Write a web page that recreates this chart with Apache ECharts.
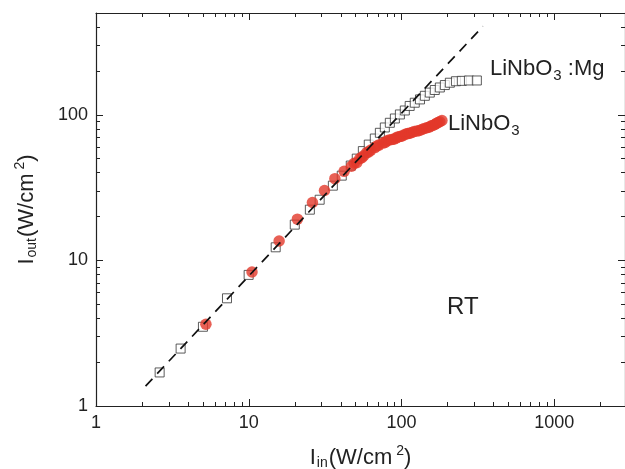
<!DOCTYPE html>
<html>
<head>
<meta charset="utf-8">
<title>Iout vs Iin</title>
<script src="https://cdn.jsdelivr.net/npm/echarts@6/dist/echarts.min.js"></script>
<style>
    html, body { margin: 0; padding: 0; background: #fff; }
    #chart { width: 625px; height: 469px; }
</style>
</head>
<body>
<div id="chart"></div>
<script>

// Data: [Iin, Iout] in W/cm2
var mgData = [
    [2.61, 1.70], [3.58, 2.48], [5.01, 3.50], [7.20, 5.49], [9.98, 7.95],
    [15.0, 12.3], [20.0, 17.6], [25.1, 22.3], [29.1, 26.1], [35.5, 32.6],
    [40.6, 38.2], [46.5, 44.8], [50.9, 50.0], [55.8, 56.3], [61.0, 62.4],
    [66.8, 68.7], [72.1, 75.2], [77.7, 81.8], [83.8, 88.1], [90.4, 94.3],
    [97.5, 100.5], [105, 107], [113, 115], [122, 121], [132, 127.5],
    [142, 135], [153, 142], [165, 148], [178, 154], [192, 160],
    [207, 166], [227, 170], [248, 171], [276, 172], [311, 172]
];

var undopedData = [
    [5.24, 3.64], [10.5, 8.33], [15.8, 13.6], [20.8, 19.2], [26.1, 25.0],
    [31.3, 30.2], [36.6, 36.4], [42.1, 40.9], [47.0, 44.3], [49.0, 46.5],
    [50.9, 46.9], [53.3, 50.0], [55.0, 50.8], [56.6, 52.4], [59.2, 55.0],
    [61.0, 55.5], [62.9, 57.2], [66.8, 59.5], [69.0, 61.0], [71.0, 61.9],
    [75.4, 63.9], [78.0, 64.5], [80.1, 66.0], [83.0, 67.2], [86.4, 67.6],
    [89.0, 67.9], [91.8, 69.2], [94.5, 70.5], [97.5, 70.9], [100, 71.2],
    [103.5, 72.6], [107, 73.8], [110, 74.3], [113, 74.6], [116.8, 75.5],
    [121, 76.8], [126, 77.3], [131, 78.0], [135.8, 79.2], [141, 80.6],
    [146.5, 81.4], [151, 82.2], [155.6, 83.7], [160, 84.5], [165.3, 85.8],
    [169, 87.2], [173, 88.5], [178, 89.6], [183.7, 91.3]
];

// Guide line (dashed)
var guideLine = [[2.11, 1.37], [341, 405]];

// Tick values
var xMajor = [1, 10, 100, 1000];
var xMinor = [2, 3, 4, 5, 6, 7, 8, 9, 20, 30, 40, 50, 60, 70, 80, 90,
    200, 300, 400, 500, 600, 700, 800, 900, 2000];
var yMajor = [1, 10, 100];
var yMinor = [2, 3, 4, 5, 6, 7, 8, 9, 20, 30, 40, 50, 60, 70, 80, 90, 200, 300, 400];

var xRange = [1, 2900];
var yRange = [1, 500];

var FONT = '"Liberation Sans", Arial, Helvetica, sans-serif';
var INK = '#222';

// One log axis; ticks only, or with line and labels
function logAxis(range, position, ticks, len, withLabels) {
    return {
        type: 'log',
        logBase: 10,
        position: position,
        min: range[0],
        max: range[1],
        axisLine: {
            show: withLabels !== undefined,
            onZero: false,
            lineStyle: { color: INK, width: 1.2 }
        },
        axisTick: {
            show: true,
            inside: true,
            length: len,
            customValues: ticks,
            lineStyle: { color: INK, width: 1 }
        },
        axisLabel: withLabels ? {
            show: true,
            customValues: ticks,
            formatter: function (v) { return String(Math.round(v)); },
            color: INK,
            fontSize: 18,
            fontFamily: FONT,
            margin: 8
        } : { show: false },
        splitLine: { show: false },
        minorTick: { show: false }
    };
}

var titleRich = {
    t: { fontSize: 22, fontFamily: FONT, color: INK },
    sub: { fontSize: 14, fontFamily: FONT, color: INK, padding: [12, 1, 0, 1] },
    sup: { fontSize: 14, fontFamily: FONT, color: INK, padding: [0, 0, 13, 4] }
};

var xAxes = [
    logAxis(xRange, 'bottom', xMajor, 7, true),
    logAxis(xRange, 'bottom', xMinor, 4),
    logAxis(xRange, 'top', xMajor, 7, false),
    logAxis(xRange, 'top', xMinor, 4)
];
xAxes[0].name = '{t|I}{sub|in}{t|(W/cm}{sup|2}{t|)}';
xAxes[0].nameLocation = 'middle';
xAxes[0].nameGap = 38;
xAxes[0].nameTextStyle = { rich: titleRich };

var yAxes = [
    logAxis(yRange, 'left', yMajor, 7, true),
    logAxis(yRange, 'left', yMinor, 4),
    logAxis(yRange, 'right', yMajor, 7, false),
    logAxis(yRange, 'right', yMinor, 4)
];
yAxes[0].name = '{t|I}{sub|out}{t|(W/cm}{sup|2}{t|)}';
yAxes[0].nameLocation = 'middle';
yAxes[0].nameRotate = 90;
yAxes[0].nameGap = 56;
yAxes[0].nameTextStyle = { rich: titleRich };

var labelRich = {
    a: { fontSize: 22, fontFamily: FONT, fill: INK },
    s: { fontSize: 15, fontFamily: FONT, fill: INK, padding: [14, 0, 0, 1] }
};

var chart = echarts.init(document.getElementById('chart'), null, { renderer: 'canvas' });

chart.setOption({
    animation: false,
    backgroundColor: '#fff',
    textStyle: { fontFamily: FONT },

    grid: {
        left: 96,
        right: 0,
        top: 13,
        bottom: 63,
        containLabel: false,
        outerBoundsMode: 'none'
    },

    xAxis: xAxes,
    yAxis: yAxes,

    // Curve labels and temperature note
    graphic: [
        {
            type: 'text',
            left: 490,
            top: 58,
            style: { text: '{a|LiNbO}{s|3}{a| :Mg}', rich: labelRich, fill: INK }
        },
        {
            type: 'text',
            left: 448,
            top: 113,
            style: { text: '{a|LiNbO}{s|3}', rich: labelRich, fill: INK }
        },
        {
            type: 'text',
            left: 447,
            top: 295,
            style: { text: 'RT', fontSize: 24, fontFamily: FONT, fill: INK }
        }
    ],

    series: [
        {
            name: 'LiNbO3:Mg',
            type: 'scatter',
            symbol: 'rect',
            symbolSize: 9,
            itemStyle: {
                color: '#fff',
                borderColor: '#333',
                borderWidth: 1
            },
            z: 2,
            data: mgData
        },
        {
            name: 'LiNbO3',
            type: 'scatter',
            symbol: 'circle',
            symbolSize: 11.5,
            itemStyle: {
                color: '#e2382b'
            },
            z: 3,
            data: undopedData
        },
        {
            name: 'guide',
            type: 'line',
            symbol: 'none',
            silent: true,
            lineStyle: {
                color: '#111',
                width: 1.7,
                type: [10, 7]
            },
            z: 4,
            data: guideLine
        }
    ]
});

</script>
</body>
</html>
